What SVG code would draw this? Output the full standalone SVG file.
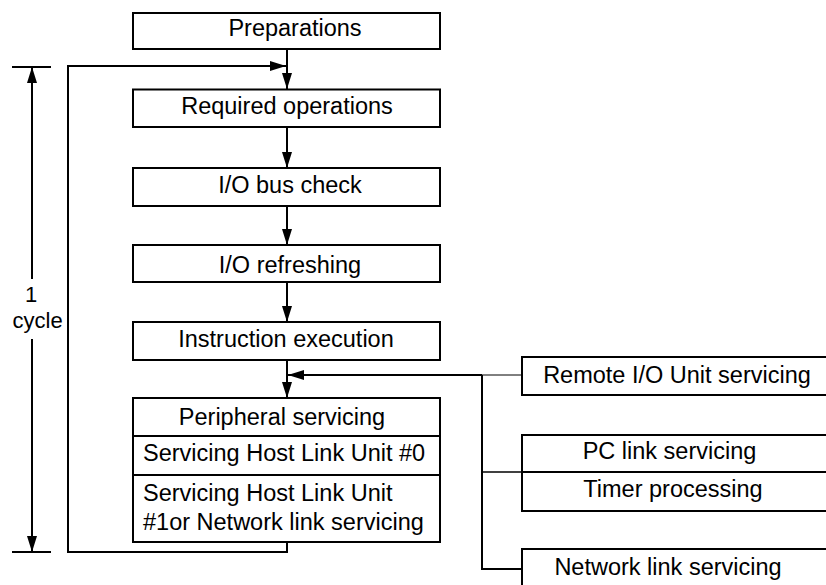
<svg xmlns="http://www.w3.org/2000/svg" width="826" height="585" viewBox="0 0 826 585">
<style>
.box{fill:#fff;stroke:#000;stroke-width:2}
.ln{fill:none;stroke:#000;stroke-width:2}
.thin{fill:none;stroke:#000;stroke-width:1}
.t{font-family:"Liberation Sans",Arial,sans-serif;font-size:23.5px;fill:#000}
.c{text-anchor:middle}
.s{font-family:"Liberation Sans",Arial,sans-serif;font-size:22px;fill:#000}
</style>
<defs>
<marker id="ah" markerWidth="16" markerHeight="10" refX="16" refY="5" orient="auto" markerUnits="userSpaceOnUse">
<path d="M0,0 L16,5 L0,10 Z" fill="#000"/>
</marker>
</defs>
<rect width="826" height="585" fill="#fff"/>
<g id="connectors">
<line class="ln" x1="287" y1="49" x2="287" y2="89" marker-end="url(#ah)"/>
<polyline class="ln" points="287,542 287,552 68,552 68,66 286,66" marker-end="url(#ah)"/>
<line class="ln" x1="287" y1="127" x2="287" y2="168" marker-end="url(#ah)"/>
<line class="ln" x1="287" y1="206" x2="287" y2="245" marker-end="url(#ah)"/>
<line class="ln" x1="287" y1="282" x2="287" y2="322" marker-end="url(#ah)"/>
<line class="ln" x1="287" y1="360" x2="287" y2="398" marker-end="url(#ah)"/>
<line class="ln" x1="482" y1="375" x2="288" y2="375" marker-end="url(#ah)"/>
<line class="thin" x1="482" y1="375" x2="522" y2="375"/>
<polyline class="ln" points="482,375 482,569 522,569"/>
<line class="ln" x1="482" y1="472" x2="522" y2="472" style="stroke-width:1.5"/>
<line class="ln" x1="12" y1="67" x2="51" y2="67"/>
<line class="ln" x1="12" y1="552" x2="51" y2="552"/>
<line class="ln" x1="32" y1="279" x2="32" y2="67" marker-end="url(#ah)"/>
<line class="ln" x1="32" y1="339" x2="32" y2="552" marker-end="url(#ah)"/>
</g>
<g id="cycle-label">
<text class="s c" x="31" y="302">1</text>
<text class="s" x="12.5" y="328">cycle</text>
</g>
<g id="preparations">
<rect class="box" x="133" y="13" width="307" height="36"/>
<text class="t c" x="295" y="36">Preparations</text>
</g>
<g id="required">
<rect class="box" x="133" y="89.5" width="307" height="37.5"/>
<text class="t c" x="287" y="113.5">Required operations</text>
</g>
<g id="iobus">
<rect class="box" x="133" y="168" width="307" height="38"/>
<text class="t c" x="290" y="193">I/O bus check</text>
</g>
<g id="iorefresh">
<rect class="box" x="133" y="245" width="307" height="37"/>
<text class="t c" x="290" y="272.5">I/O refreshing</text>
</g>
<g id="instruction">
<rect class="box" x="133" y="322" width="307" height="38"/>
<text class="t c" x="286" y="347">Instruction execution</text>
</g>
<g id="peripheral">
<rect class="box" x="133" y="398" width="307" height="144"/>
<line class="ln" x1="133" y1="436" x2="440" y2="436"/>
<line class="ln" x1="133" y1="475" x2="440" y2="475"/>
<text class="t c" x="282" y="425">Peripheral servicing</text>
<text class="t" x="143" y="461">Servicing Host Link Unit #0</text>
<text class="t" x="143" y="501">Servicing Host Link Unit</text>
<text class="t" x="143" y="529.5">#1or Network link servicing</text>
</g>
<g id="remote">
<rect class="box" x="522" y="357" width="320" height="38"/>
<text class="t c" x="677" y="383">Remote I/O Unit servicing</text>
</g>
<g id="pclink">
<rect class="box" x="522" y="435" width="320" height="76"/>
<line class="ln" x1="522" y1="472" x2="842" y2="472"/>
<text class="t c" x="669.5" y="459">PC link servicing</text>
<text class="t c" x="673" y="497">Timer processing</text>
</g>
<g id="network">
<rect class="box" x="522" y="549" width="320" height="60"/>
<text class="t c" x="668" y="575">Network link servicing</text>
</g>
</svg>
